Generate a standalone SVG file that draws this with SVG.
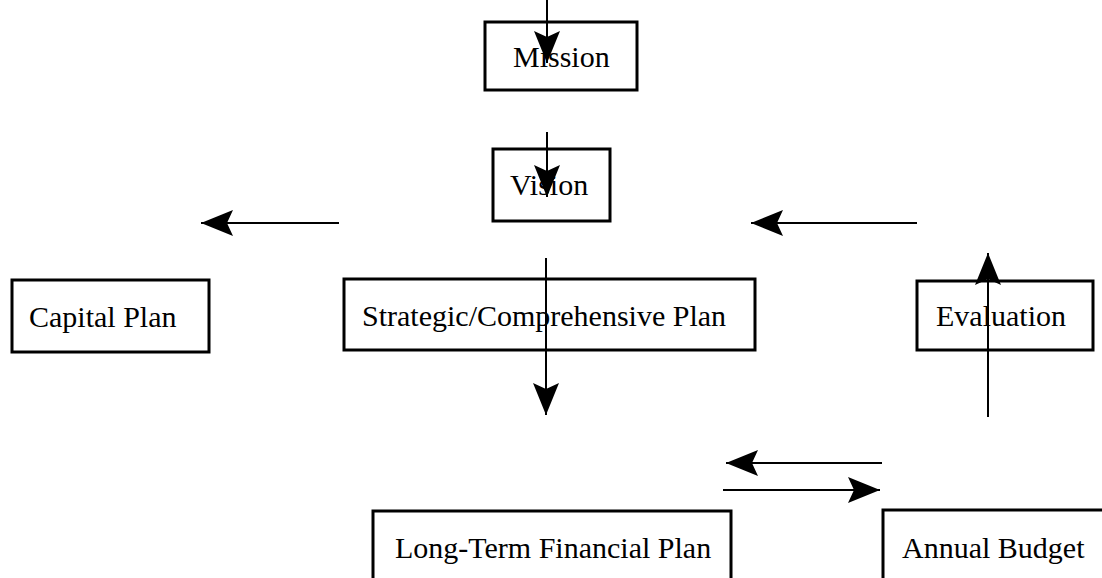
<svg xmlns="http://www.w3.org/2000/svg" width="1102" height="578" viewBox="0 0 1102 578">
<defs>
<style>
.box{fill:#fff;stroke:#000;stroke-width:3}
.lbl{font-family:"Liberation Serif","Times New Roman",serif;font-size:30px;fill:#000}
.conn{stroke:#000;stroke-width:2;fill:none;marker-end:url(#ah)}
</style>
<marker id="ah" markerUnits="userSpaceOnUse" markerWidth="34" markerHeight="28" refX="32" refY="13" orient="auto">
<path d="M0,0 L32,13 L0,26 L6,13 Z" fill="#000"/>
</marker>
</defs>
<rect width="1102" height="578" fill="#fff"/>
<g id="mission"><rect class="box" x="485" y="22" width="152" height="68"/><text class="lbl" x="513" y="67">Mission</text></g>
<g id="vision"><rect class="box" x="493" y="149" width="117" height="72"/><text class="lbl" x="510" y="195">Vision</text></g>
<g id="capital"><rect class="box" x="12" y="280" width="197" height="72"/><text class="lbl" x="29" y="327">Capital Plan</text></g>
<g id="strategic"><rect class="box" x="344" y="279" width="411" height="71"/><text class="lbl" x="362" y="326">Strategic/Comprehensive Plan</text></g>
<g id="evaluation"><rect class="box" x="917" y="281" width="176" height="69"/><text class="lbl" x="936" y="326">Evaluation</text></g>
<g id="longterm"><rect class="box" x="373" y="511" width="358" height="90"/><text class="lbl" x="395" y="558">Long-Term Financial Plan</text></g>
<g id="annual"><rect class="box" x="883" y="510" width="240" height="90"/><text class="lbl" x="902" y="558">Annual Budget</text></g>
<g id="connectors">
<line class="conn" x1="547" y1="0" x2="547" y2="63"/>
<line class="conn" x1="547" y1="132" x2="547" y2="197"/>
<line class="conn" x1="546" y1="258" x2="546" y2="415"/>
<line class="conn" x1="988" y1="417" x2="988" y2="253"/>
<line class="conn" x1="339" y1="223" x2="201" y2="223"/>
<line class="conn" x1="917" y1="223" x2="751" y2="223"/>
<line class="conn" x1="882" y1="463" x2="726" y2="463"/>
<line class="conn" x1="723" y1="490" x2="880" y2="490"/>
</g>
</svg>
